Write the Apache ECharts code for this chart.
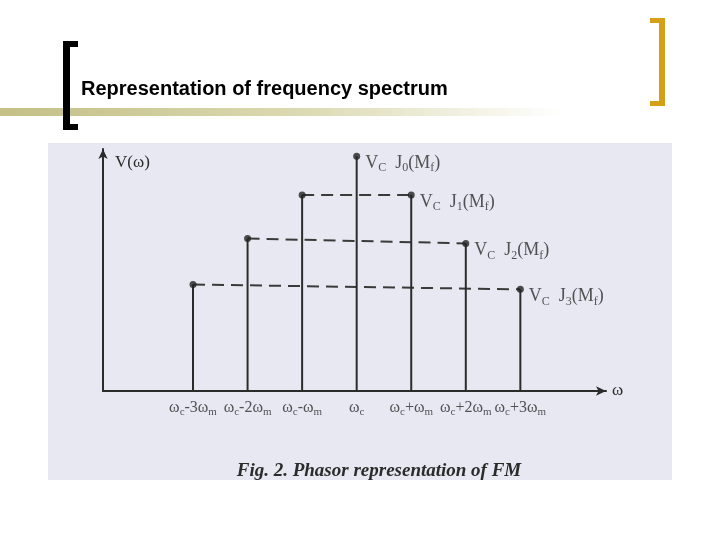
<!DOCTYPE html>
<html>
<head>
<meta charset="utf-8">
<script src="https://cdn.jsdelivr.net/npm/echarts@6/dist/echarts.min.js"></script>
<style>
  html, body { margin: 0; padding: 0; background: #fff; }
  #chart { width: 720px; height: 540px; }
</style>
</head>
<body>
<div id="chart"></div>
<script>
// spectral lines, offset from the carrier in multiples of wm
var offsets = [-3, -2, -1, 0, 1, 2, 3];
var amplitudes = [0.44, 0.63, 0.81, 0.97, 0.81, 0.61, 0.42];
var freqLabels = [
  '{b|ω}{s|c}{b|-3ω}{s|m}',
  '{b|ω}{s|c}{b|-2ω}{s|m}',
  '{b|ω}{s|c}{b|-ω}{s|m}',
  '{b|ω}{s|c}',
  '{b|ω}{s|c}{b|+ω}{s|m}',
  '{b|ω}{s|c}{b|+2ω}{s|m}',
  '{b|ω}{s|c}{b|+3ω}{s|m}'
];
var ampLabels = ['', '', '',
  '{b|V}{s|C}{b|  J}{s|0}{b|(M}{s|f}{b|)}',
  '{b|V}{s|C}{b|  J}{s|1}{b|(M}{s|f}{b|)}',
  '{b|V}{s|C}{b|  J}{s|2}{b|(M}{s|f}{b|)}',
  '{b|V}{s|C}{b|  J}{s|3}{b|(M}{s|f}{b|)}'
];

var ink = '#2b2b2b';
var serif = '"Liberation Serif", "DejaVu Serif", serif';
var tickRich = {
  b: { fontFamily: serif, fontSize: 16, color: ink, lineHeight: 20 },
  s: { fontFamily: serif, fontSize: 11, color: ink, verticalAlign: 'bottom', lineHeight: 20, padding: [12, 0, 0, 0] }
};
var ampRich = {
  b: { fontFamily: serif, fontSize: 18, color: ink, lineHeight: 22 },
  s: { fontFamily: serif, fontSize: 12, color: ink, verticalAlign: 'bottom', lineHeight: 22, padding: [12, 0, 0, 0] }
};

var stems = offsets.map(function (o, i) { return [o, amplitudes[i]]; });
var dots = offsets.map(function (o, i) {
  return { value: [o, amplitudes[i]], label: { show: ampLabels[i] !== '', formatter: ampLabels[i] } };
});
var ticks = offsets.map(function (o, i) {
  return { value: [o, 0], label: { formatter: freqLabels[i] } };
});

var levelSeries = [];
for (var i = 0; i < 3; i++) {
  levelSeries.push({
    type: 'line',
    data: [[offsets[i], amplitudes[i]], [offsets[6 - i], amplitudes[6 - i]]],
    symbol: 'none',
    silent: true,
    lineStyle: { color: '#3a3a3a', width: 2, type: [12, 7] },
    z: 2
  });
}

var chart = echarts.init(document.getElementById('chart'));
chart.setOption({
  animation: false,
  backgroundColor: '#ffffff',
  graphic: [
    { type: 'rect', shape: { x: 0, y: 108, width: 560, height: 8 }, z: -10,
      style: { fill: new echarts.graphic.LinearGradient(0, 0, 1, 0, [
        { offset: 0, color: '#c3bf86' }, { offset: 0.55, color: '#dcdab3' }, { offset: 1, color: '#ffffff' }]) } },
    { type: 'rect', shape: { x: 63, y: 41, width: 7, height: 89 }, style: { fill: '#000' }, z: -5 },
    { type: 'rect', shape: { x: 63, y: 41, width: 15, height: 6 }, style: { fill: '#000' }, z: -5 },
    { type: 'rect', shape: { x: 63, y: 124, width: 15, height: 6 }, style: { fill: '#000' }, z: -5 },
    { type: 'rect', shape: { x: 659, y: 18, width: 6, height: 88 }, style: { fill: '#d4a017' }, z: -5 },
    { type: 'rect', shape: { x: 650, y: 18, width: 15, height: 5 }, style: { fill: '#d4a017' }, z: -5 },
    { type: 'rect', shape: { x: 650, y: 101, width: 15, height: 5 }, style: { fill: '#d4a017' }, z: -5 },
    { type: 'rect', shape: { x: 48, y: 143, width: 624, height: 337 }, style: { fill: '#e8e8f2' }, z: -8 }
  ],
  title: [
    { text: 'Representation of frequency spectrum', left: 76, top: 74,
      textStyle: { fontFamily: '"Liberation Sans", Arial, sans-serif', fontSize: 20, fontWeight: 'bold', color: '#000' } },
    { text: 'Fig. 2. Phasor representation of FM', left: 374, top: 457, textAlign: 'center',
      textStyle: { fontFamily: serif, fontSize: 19, fontWeight: 'bold', fontStyle: 'italic', color: ink } }
  ],
  grid: { left: 103, right: 114, top: 149, bottom: 149 },
  xAxis: {
    type: 'value', min: -4.65, max: 4.57,
    name: 'ω', nameLocation: 'end', nameGap: 6,
    nameTextStyle: { fontFamily: serif, fontSize: 17, color: ink, padding: [18, 0, 0, 0] },
    axisLine: { onZero: false, symbol: ['none', 'arrow'], symbolSize: [7, 10], lineStyle: { color: ink, width: 2 } },
    axisTick: { show: false }, axisLabel: { show: false }, splitLine: { show: false }
  },
  yAxis: {
    type: 'value', min: 0, max: 1,
    name: 'V(ω)', nameLocation: 'end', nameGap: -22,
    nameTextStyle: { fontFamily: serif, fontSize: 17, color: ink, align: 'left', padding: [0, 0, 0, 12] },
    axisLine: { onZero: false, symbol: ['none', 'arrow'], symbolSize: [7, 10], lineStyle: { color: ink, width: 2 } },
    axisTick: { show: false }, axisLabel: { show: false }, splitLine: { show: false }
  },
  series: [
    { type: 'bar', data: stems, barWidth: 2, itemStyle: { color: ink }, silent: true, z: 3 },
    { type: 'scatter', data: dots, symbolSize: 7, itemStyle: { color: '#222' }, z: 4,
      label: { position: 'right', distance: 5, offset: [0, 7], rich: ampRich } },
    { type: 'scatter', data: ticks, symbolSize: 0, z: 4,
      label: { show: true, position: 'bottom', distance: 7, rich: tickRich } }
  ].concat(levelSeries)
});
</script>
</body>
</html>
